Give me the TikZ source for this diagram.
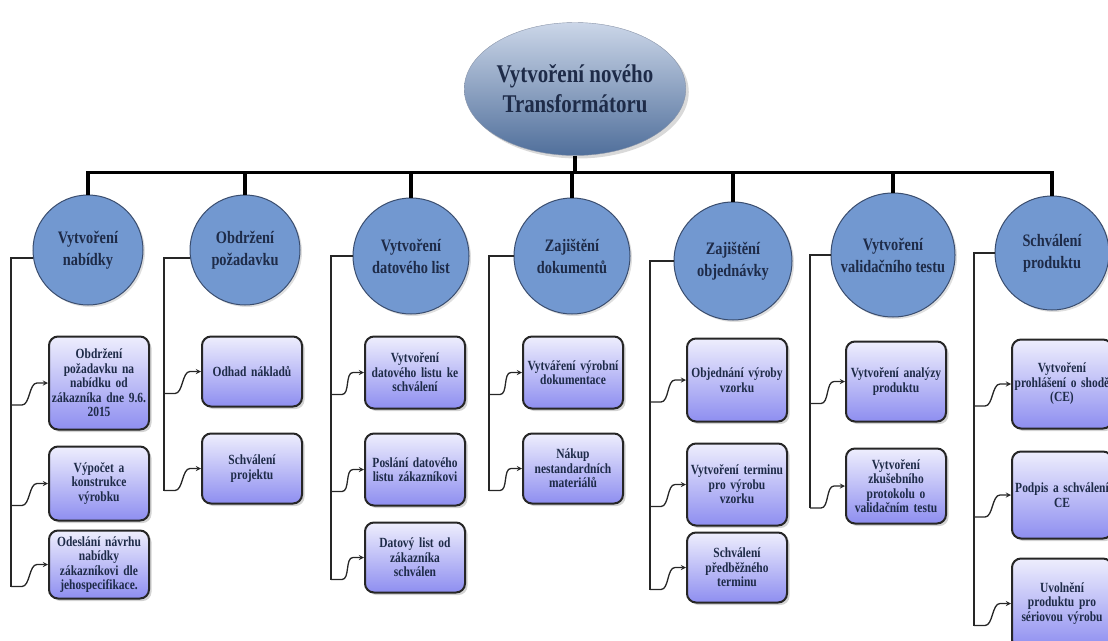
\documentclass[tikz,border=0pt]{standalone}
\usepackage{fontspec}
\setmainfont{Liberation Serif}[FakeStretch=0.82]
\usetikzlibrary{shapes,arrows,positioning,calc,shadows}

\definecolor{ink}{HTML}{1E2B48}
\definecolor{phasefill}{HTML}{7298D0}
\definecolor{phaseline}{HTML}{3A4D6E}
\definecolor{goaltop}{HTML}{CBD6E8}
\definecolor{goalbottom}{HTML}{506F9B}
\definecolor{tasktop}{HTML}{EEEEFD}
\definecolor{taskbottom}{HTML}{8E8EF0}

\begin{document}
\begin{tikzpicture}[
    x=1pt, y=1pt,
    goal/.style={ellipse, draw=phaseline!60, top color=goaltop, bottom color=goalbottom, minimum width=195pt, minimum height=133pt, inner sep=0pt, align=center, text=ink, font=\fontsize{25.5}{30}\selectfont\bfseries, drop shadow={opacity=0.3, shadow xshift=3pt, shadow yshift=-3pt}},
    phase/.style={circle, draw=phaseline, line width=1pt, fill=phasefill, minimum size=116pt, inner sep=0pt, align=center, text=ink, font=\fontsize{17.5}{22}\selectfont\bfseries, drop shadow={opacity=0.25, shadow xshift=2pt, shadow yshift=-2pt}},
    task/.style={rectangle, rounded corners=9pt, draw=black!85, line width=2pt, top color=tasktop, bottom color=taskbottom, minimum width=100pt, text width=99pt, minimum height=70pt, inner xsep=0.5pt, align=center, text=ink, font=\fontsize{14}{14.5}\selectfont\bfseries, drop shadow={opacity=0.35, shadow xshift=2.5pt, shadow yshift=-2.5pt}},
    trunk/.style={line width=3.5pt},
    spine/.style={line width=1.6pt, black!85},
    feed/.style={->, >=stealth, line width=1.3pt, black!85,
        to path={-- ++(11,0) .. controls +(8,0) and +(-8,0) .. ($(\tikztotarget.west)+(-11,0)$) -- (\tikztotarget.west)}}
]
\useasboundingbox (0,0) rectangle (1108,-640);
\clip (0,0) rectangle (1108,-640);

% Main goal
\node[goal] (root) at (575,-89) {Vytvoření nového\\Transformátoru};

% Phases
\node[phase, minimum size=110pt] (nabidka) at (88,-250) {Vytvoření\\nabídky};
\node[phase, minimum size=110pt] (pozadavek) at (245,-250) {Obdržení\\požadavku};
\node[phase] (datlist) at (411,-256) {Vytvoření\\datového list};
\node[phase] (dokumenty) at (572,-256) {Zajištění\\dokumentů};
\node[phase, minimum size=118pt] (objednavka) at (733,-261) {Zajištění\\objednávky};
\node[phase, minimum size=124pt] (validace) at (893,-255) {Vytvoření\\validačního testu};
\node[phase, minimum size=114pt] (schvaleni) at (1052,-253) {Schválení\\produktu};

% Tasks - nabidka
\node[task, minimum height=93pt, below=30pt of nabidka, xshift=11pt] (nabidka1) {Obdržení\\požadavku na\\nabídku od\\zákazníka dne 9.6.\\2015};
\node[task, minimum height=74pt, below=15pt of nabidka1] (nabidka2) {Výpočet a\\konstrukce\\výrobku};
\node[task, minimum height=68pt, below=8pt of nabidka2] (nabidka3) {Odeslání návrhu\\nabídky\\zákazníkovi dle\\jehospecifikace.};

% Tasks - pozadavek
\node[task, below=30pt of pozadavek, xshift=7pt] (pozadavek1) {Odhad nákladů};
\node[task, below=25pt of pozadavek1] (pozadavek2) {Schválení\\projektu};

% Tasks - datlist
\node[task, minimum height=72pt, below=21pt of datlist, xshift=4pt] (datlist1) {Vytvoření\\datového listu ke\\schválení};
\node[task, minimum height=72pt, below=23pt of datlist1] (datlist2) {Poslání datového\\listu zákazníkovi};
\node[task, below=15pt of datlist2] (datlist3) {Datový list od\\zákazníka\\schválen};

% Tasks - dokumenty
\node[task, minimum height=72pt, below=21pt of dokumenty, xshift=1pt] (dokumenty1) {Vytváření výrobní\\dokumentace};
\node[task, below=23pt of dokumenty1] (dokumenty2) {Nákup\\nestandardních\\materiálů};

% Tasks - objednavka
\node[task, minimum height=83pt, below=17pt of objednavka, xshift=4pt] (objednavka1) {Objednání výroby\\vzorku};
\node[task, minimum height=82pt, below=20pt of objednavka1] (objednavka2) {Vytvoření terminu\\pro výrobu\\vzorku};
\node[task, below=5pt of objednavka2] (objednavka3) {Schválení\\předběžného\\terminu};

% Tasks - validace
\node[task, minimum height=80pt, below=23pt of validace, xshift=3pt] (validace1) {Vytvoření analýzy\\produktu};
\node[task, minimum height=75pt, below=25pt of validace1] (validace2) {Vytvoření\\zkušebního\\protokolu o\\validačním testu};

% Tasks - schvaleni
\node[task, minimum height=89pt, below=28pt of schvaleni, xshift=10pt] (schvaleni1) {Vytvoření\\prohlášení o shodě\\(CE)};
\node[task, minimum height=87pt, below=21pt of schvaleni1] (schvaleni2) {Podpis a schválení\\CE};
\node[task, minimum height=90pt, below=18pt of schvaleni2] (schvaleni3) {Uvolnění\\produktu pro\\sériovou výrobu};

% Spine ends
\coordinate (hub) at ($(root.south)+(0,-17)$);
\coordinate (g1) at ($(nabidka3.west)+(-37,-22)$);
\coordinate (g2) at ($(pozadavek2.west)+(-37,-22)$);
\coordinate (g3) at ($(datlist3.west)+(-33,-22)$);
\coordinate (g4) at ($(dokumenty2.west)+(-33,-22)$);
\coordinate (g5) at ($(objednavka3.west)+(-36,-22)$);
\coordinate (g6) at ($(validace2.west)+(-35,-22)$);
\coordinate (g7) at ($(schvaleni3.west)+(-37,-22)$);

% Trunk
\draw[trunk] (root.south) -- (hub);
\draw[trunk] (hub) -| (nabidka.north);
\draw[trunk] (hub) -| (pozadavek.north);
\draw[trunk] (hub) -| (datlist.north);
\draw[trunk] (hub) -| (dokumenty.north);
\draw[trunk] (hub) -| (objednavka.north);
\draw[trunk] (hub) -| (validace.north);
\draw[trunk] (hub) -| (schvaleni.north);

% Spines
\draw[spine] (nabidka.188) -| (g1);
\draw[spine] (pozadavek.188) -| (g2);
\draw[spine] (datlist.west) -| (g3);
\draw[spine] (dokumenty.west) -| (g4);
\draw[spine] (objednavka.west) -| (g5);
\draw[spine] (validace.west) -| (g6);
\draw[spine] (schvaleni.west) -| (g7);

% Feeds
\draw[feed] ($(g1 |- nabidka1.west)+(0,-22)$) to (nabidka1);
\draw[feed] ($(g1 |- nabidka2.west)+(0,-22)$) to (nabidka2);
\draw[feed] ($(g1 |- nabidka3.west)+(0,-22)$) to (nabidka3);
\draw[feed] ($(g2 |- pozadavek1.west)+(0,-22)$) to (pozadavek1);
\draw[feed] ($(g2 |- pozadavek2.west)+(0,-22)$) to (pozadavek2);
\draw[feed] ($(g3 |- datlist1.west)+(0,-22)$) to (datlist1);
\draw[feed] ($(g3 |- datlist2.west)+(0,-22)$) to (datlist2);
\draw[feed] ($(g3 |- datlist3.west)+(0,-22)$) to (datlist3);
\draw[feed] ($(g4 |- dokumenty1.west)+(0,-22)$) to (dokumenty1);
\draw[feed] ($(g4 |- dokumenty2.west)+(0,-22)$) to (dokumenty2);
\draw[feed] ($(g5 |- objednavka1.west)+(0,-22)$) to (objednavka1);
\draw[feed] ($(g5 |- objednavka2.west)+(0,-22)$) to (objednavka2);
\draw[feed] ($(g5 |- objednavka3.west)+(0,-22)$) to (objednavka3);
\draw[feed] ($(g6 |- validace1.west)+(0,-22)$) to (validace1);
\draw[feed] ($(g6 |- validace2.west)+(0,-22)$) to (validace2);
\draw[feed] ($(g7 |- schvaleni1.west)+(0,-22)$) to (schvaleni1);
\draw[feed] ($(g7 |- schvaleni2.west)+(0,-22)$) to (schvaleni2);
\draw[feed] ($(g7 |- schvaleni3.west)+(0,-22)$) to (schvaleni3);

\end{tikzpicture}
\end{document}
